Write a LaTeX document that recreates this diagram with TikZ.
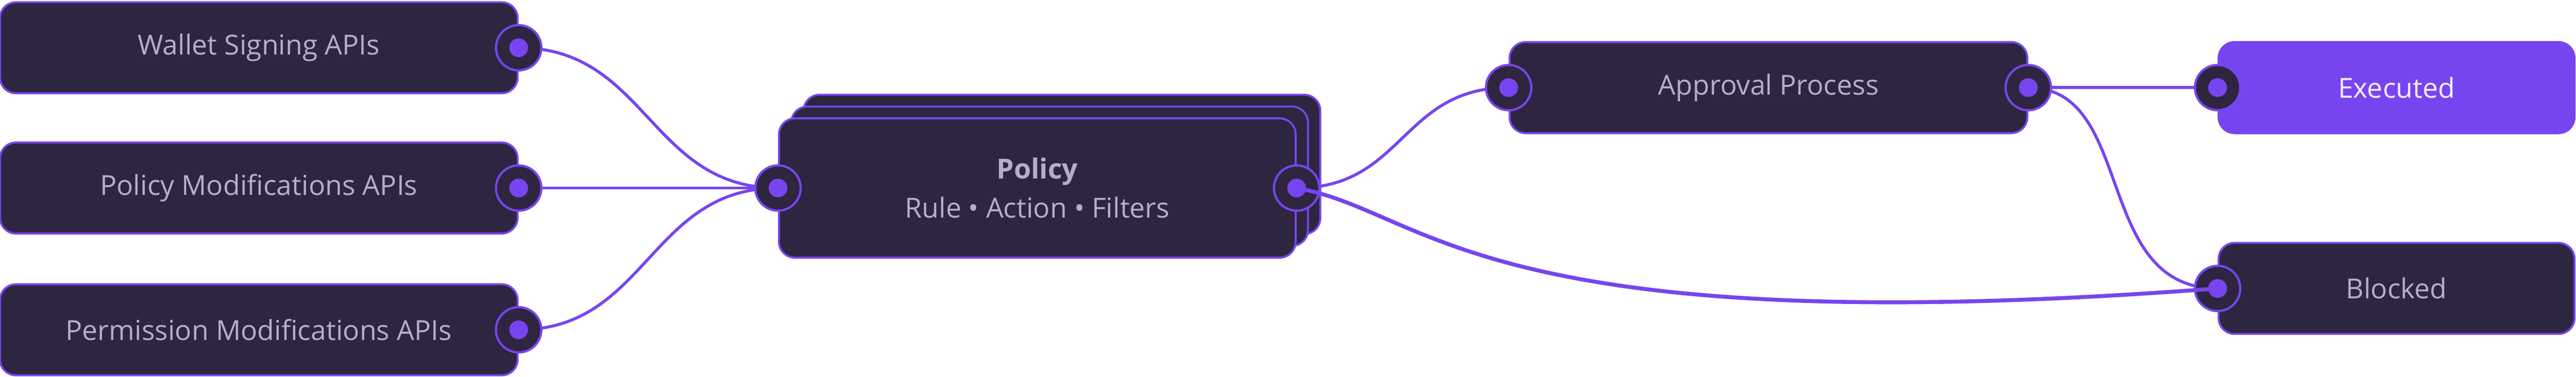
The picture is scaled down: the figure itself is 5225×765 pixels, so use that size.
\documentclass[tikz,border=0pt]{standalone}
\usepackage{fontspec}
\setmainfont{Open Sans}

\definecolor{cardfill}{HTML}{2E2640}
\definecolor{accent}{HTML}{7745EF}
\definecolor{labeltext}{HTML}{B6AEC8}
\definecolor{donetext}{HTML}{F1EEFA}

\pgfdeclarelayer{cards}
\pgfdeclarelayer{wires}
\pgfsetlayers{cards,wires,main}

\tikzset{
  card/.style={draw=accent, fill=cardfill, line width=0.8pt, rounded corners=6.5pt,
    text=labeltext, font=\fontsize{11.2}{16}\selectfont, inner sep=0pt,
    minimum width=210pt, minimum height=37pt},
  bigcard/.style={card, minimum width=209.6pt, minimum height=56.6pt, align=center},
  smallcard/.style={card, minimum width=144.4pt},
  port/.style={circle, draw=accent, fill=cardfill, line width=0.9pt, inner sep=0pt,
    minimum size=18.4pt,
    path picture={\fill[accent] (path picture bounding box.center) circle (3.8pt);}},
  wire/.style={accent, line width=1.2pt},
}

\begin{document}
\begin{tikzpicture}[x=0.2pt, y=-0.2pt]
  \useasboundingbox (0,0) rectangle (5225,765);

  \begin{pgfonlayer}{cards}
    % API sources
    \node[card] (wallet) at (525,97) {Wallet Signing APIs};
    \node[card] (polmod) at (525,382) {Policy Modifications APIs};
    \node[card] (permmod) at (525,670) {Permission Modifications APIs};

    % stacked policy cards
    \node[bigcard] (policy2) at (2154,334) {};
    \node[bigcard] (policy1) at (2129,358) {};
    \node[bigcard] (policy) at (2104,382) {\textbf{Policy}\\Rule • Action • Filters};

    % outcomes
    \node[card] (approval) at (3587,178) {Approval Process};
    \node[smallcard, fill=accent, text=donetext] (executed) at (4861,178) {Executed};
    \node[smallcard] (blocked) at (4861,586) {Blocked};
  \end{pgfonlayer}

  % ports
  \foreach \src in {wallet,polmod,permmod} {
    \node[port] (\src-out) at (\src.east) {};
  }
  \node[port] (policy-in) at (policy.west) {};
  \node[port] (policy-out) at (policy.east) {};
  \node[port] (approval-in) at (approval.west) {};
  \node[port] (approval-out) at (approval.east) {};
  \node[port] (executed-in) at (executed.west) {};
  \node[port] (blocked-in) at (blocked.west) {};

  \begin{pgfonlayer}{wires}
    \foreach \src in {wallet,polmod,permmod} {
      \draw[wire] (\src-out.center) .. controls +(260,0) and +(-260,0) .. (policy-in.center);
    }
    \draw[wire] (policy-out.center) .. controls +(217,0) and +(-217,0) .. (approval-in.center);
    \draw[wire] (approval-out.center) -- (executed-in.center);
    \draw[wire] (approval-out.center) .. controls +(219,0) and +(-254,0) .. (blocked-in.center);
  \end{pgfonlayer}

  % direct block path
  \draw[wire, line width=1.6pt] (policy-out.center) .. controls +(270,48) and +(-1504,115) .. (blocked-in.center);
\end{tikzpicture}
\end{document}
